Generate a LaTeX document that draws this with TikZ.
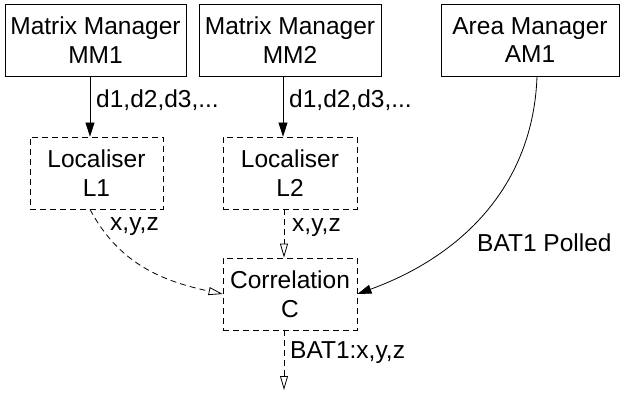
\documentclass[tikz,border=0pt]{standalone}
\usepackage{fontspec}
\setmainfont{Liberation Sans}
\usetikzlibrary{arrows.meta}
\begin{document}
\begin{tikzpicture}[x=1pt,y=1pt,
  box/.style={draw,line width=0.8pt,minimum height=72pt,inner sep=0pt,align=center,
     font=\fontsize{24.5}{28.5}\selectfont},
  dbox/.style={box,dashed,dash pattern=on 6pt off 4pt},
  lbl/.style={anchor=west,inner sep=0pt,font=\fontsize{24.5}{28.5}\selectfont},
  solidarr/.style={line width=0.8pt,-{Triangle[length=14pt,width=9pt]}},
  dasharr/.style={line width=0.8pt,dash pattern=on 6pt off 4pt,-{Triangle[open,length=14pt,width=8pt]}}]
\useasboundingbox (0,0) rectangle (620,394);
\node[box,minimum width=181pt] (MM1) at (95.5,354) {Matrix Manager\\MM1};
\node[box,minimum width=182pt] (MM2) at (290,354) {Matrix Manager\\MM2};
\node[box,minimum width=178pt] (AM1) at (530,354) {Area Manager\\AM1};
\node[dbox,minimum width=133pt] (L1) at (96.5,221) {Localiser\\L1};
\node[dbox,minimum width=134pt] (L2) at (290,221) {Localiser\\L2};
\node[dbox,minimum width=134pt] (C) at (290,100) {Correlation\\C};
\coordinate (out) at (284,4);
\draw[solidarr] ([xshift=-5.5pt]MM1.south) -- ([xshift=-6.5pt]L1.north);
\draw[solidarr] ([xshift=-7pt]MM2.south) -- ([xshift=-7pt]L2.north);
\draw[dasharr] ([xshift=-6pt]L2.south) -- ([xshift=-6pt]C.north);
\draw[dasharr] ([xshift=-6pt]C.south) -- (out);
\draw[dasharr] ([xshift=-6.5pt]L1.south) to[out=-62,in=168] (C.west);
\draw[solidarr] ([xshift=7pt]AM1.south) to[out=-92,in=20] (C.east);
\node[lbl] (t1) at (96,294) {d1,d2,d3,...};
\node[lbl] (t2) at (289,294) {d1,d2,d3,...};
\node[lbl] (t3) at (110,167) {x,y,z};
\node[lbl] (t4) at (292,166) {x,y,z};
\node[lbl] (t5) at (290,41) {BAT1:x,y,z};
\node[lbl] (t6) at (477,151) {BAT1 Polled};
\end{tikzpicture}
\end{document}
